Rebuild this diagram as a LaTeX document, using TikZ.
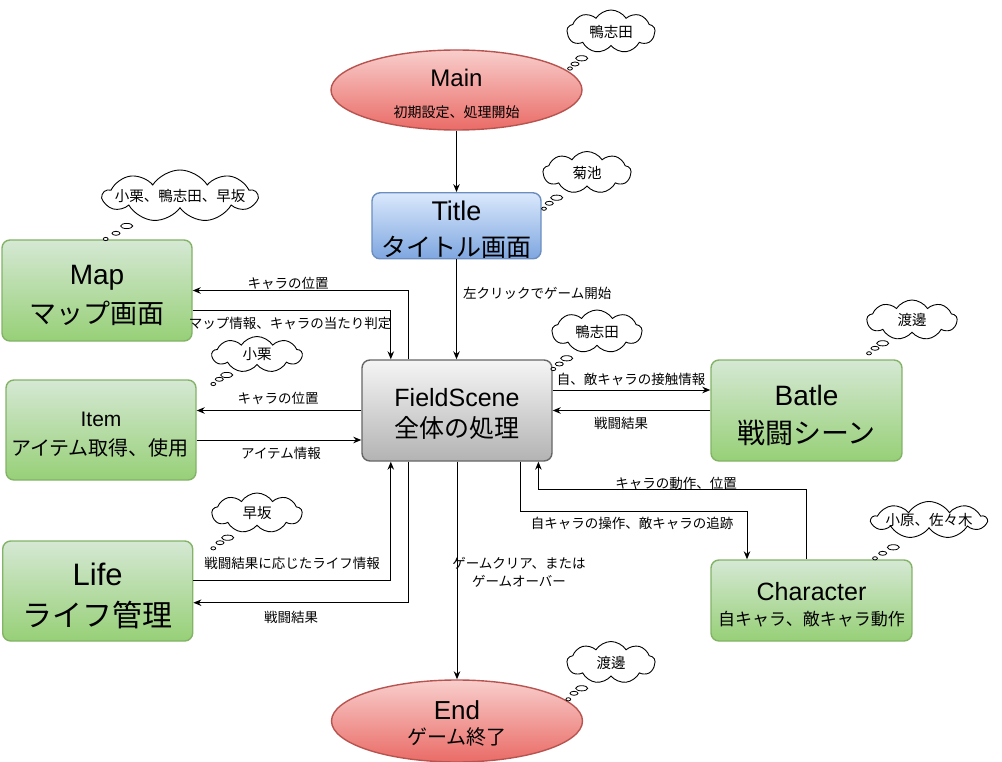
\documentclass[tikz,border=0pt]{standalone}
\usepackage{fontspec}
\setmainfont{Noto Sans CJK JP}
\newfontfamily\lat{Liberation Sans}
\usetikzlibrary{shapes.geometric,shapes.symbols,arrows.meta,calc}
\definecolor{rtop}{HTML}{F8CECC}\definecolor{rbot}{HTML}{EA6B66}\definecolor{rbd}{HTML}{B85450}
\definecolor{btop}{HTML}{DAE8FC}\definecolor{bbot}{HTML}{7EA6E0}\definecolor{bbd}{HTML}{6C8EBF}
\definecolor{gtop}{HTML}{D5E8D4}\definecolor{gbot}{HTML}{97D077}\definecolor{gbd}{HTML}{82B366}
\definecolor{ktop}{HTML}{F5F5F5}\definecolor{kbot}{HTML}{B3B3B3}\definecolor{kbd}{HTML}{666666}
\newcommand{\fsz}[1]{\fontsize{#1}{#1}\selectfont}
\newcommand{\ctext}[1]{\makebox[0pt]{#1}}
\begin{document}
\begin{tikzpicture}[x=1pt,y=-1pt,
  box/.style={rectangle, rounded corners=8pt, line width=1.4pt, inner sep=0pt},
  greenbox/.style={box, draw=gbd, top color=gtop, bottom color=gbot},
  bluebox/.style={box, draw=bbd, top color=btop, bottom color=bbot},
  graybox/.style={box, draw=kbd, top color=ktop, bottom color=kbot},
  redell/.style={ellipse, line width=1.4pt, draw=rbd, top color=rtop, bottom color=rbot, inner sep=0pt},
  txt/.style={inner sep=0pt, anchor=base},
  lbl/.style={inner sep=0pt, font=\fsz{13.5}},
  thought/.style={cloud, cloud puffs=9, cloud puff arc=115, cloud ignores aspect, draw, line width=0.9pt, fill=white, inner sep=0pt, font=\fsz{14.5}},
  bub/.style={draw, line width=0.8pt, fill=white},
  arr/.style={line width=1pt, -{Stealth[length=8pt,width=6.5pt]}},
  ]
\useasboundingbox (0,0) rectangle (1002,762);

% ---- main boxes
\node[redell, minimum width=251pt, minimum height=80pt] (main) at (456.5,90) {};
\node[txt, font=\fsz{24}\lat] (mainA) at (456.5,87) {Main};
\node[txt, font=\fsz{14}] (mainB) at (456.5,117.5) {初期設定、処理開始};

\node[bluebox, minimum width=169pt, minimum height=66pt] (title) at (456.5,225.8) {};
\node[txt, font=\fsz{27}\lat] (titleA) at (456.5,220.7) {Title};
\node[txt, font=\fsz{25}] (titleB) at (456.5,256.5) {タイトル画面};

\node[greenbox, minimum width=190pt, minimum height=101pt] (map) at (97,290.5) {};
\node[txt, font=\fsz{28}\lat] (mapA) at (97,285) {Map};
\node[txt, font=\fsz{27}] (mapB) at (97,323.5) {マップ画面};

\node[greenbox, minimum width=190pt, minimum height=100pt] (item) at (101,430) {};
\node[txt, font=\fsz{21}\lat] (itemA) at (101,426.7) {Item};
\node[txt, font=\fsz{20}] (itemB) at (100,455) {アイテム取得、使用};

\node[greenbox, minimum width=190pt, minimum height=100pt] (life) at (97.7,591) {};
\node[txt, font=\fsz{31}\lat] (lifeA) at (97.7,585) {Life};
\node[txt, font=\fsz{30}] (lifeB) at (97.7,626.5) {ライフ管理};

\node[graybox, minimum width=190pt, minimum height=101pt] (field) at (457,410.5) {};
\node[txt, font=\fsz{25}\lat] (fieldA) at (457,406.7) {FieldScene};
\node[txt, font=\fsz{25}] (fieldB) at (457,437.8) {全体の処理};

\node[greenbox, minimum width=191pt, minimum height=101pt] (batle) at (806.5,410.5) {};
\node[txt, font=\fsz{28}\lat] (batleA) at (806.5,405) {Batle};
\node[txt, font=\fsz{28}] (batleB) at (806.5,443.3) {戦闘シーン};

\node[greenbox, minimum width=201pt, minimum height=81pt] (char) at (811.5,600.5) {};
\node[txt, font=\fsz{25}\lat] (charA) at (811.5,600) {Character};
\node[txt, font=\fsz{17}] (charB) at (811.5,625.7) {自キャラ、敵キャラ動作};

\node[redell, minimum width=251pt, minimum height=82pt] (end) at (457,721) {};
\node[txt, font=\fsz{26}\lat] (endA) at (457,719) {End};
\node[txt, font=\fsz{20}] (endB) at (457,744.8) {ゲーム終了};

% ---- thought clouds
\node[thought, minimum width=88pt, minimum height=43pt] (c1) at (611,31.5) {\ctext{鴨志田}};
\draw[bub] (581.7,58.3) ellipse [x radius=6, y radius=2.6];
\draw[bub] (575,64) ellipse [x radius=4, y radius=2];
\draw[bub] (570,68.5) ellipse [x radius=2.4, y radius=1.6];

\node[thought, minimum width=88pt, minimum height=42pt] (c2) at (587,172.5) {\ctext{菊池}};
\draw[bub] (556.7,197.7) ellipse [x radius=6, y radius=2.6];
\draw[bub] (549.3,203.3) ellipse [x radius=4, y radius=2];
\draw[bub] (544,208.7) ellipse [x radius=2.4, y radius=1.6];

\node[thought, minimum width=154pt, minimum height=52pt] (c3) at (180,196) {\ctext{小栗、鴨志田、早坂}};
\draw[bub] (126.7,226) ellipse [x radius=6, y radius=2.6];
\draw[bub] (116,233.3) ellipse [x radius=4, y radius=2];
\draw[bub] (105.7,239) ellipse [x radius=2.4, y radius=1.6];

\node[thought, minimum width=90pt, minimum height=43pt] (c4) at (597,331.5) {\ctext{鴨志田}};
\draw[bub] (566.7,358.3) ellipse [x radius=6, y radius=2.6];
\draw[bub] (559.3,364) ellipse [x radius=4, y radius=2];
\draw[bub] (553.3,369) ellipse [x radius=2.4, y radius=1.6];

\node[thought, minimum width=90pt, minimum height=40pt] (c5) at (912,320) {\ctext{渡邊}};
\draw[bub] (882.7,343.3) ellipse [x radius=6, y radius=2.6];
\draw[bub] (875,348.3) ellipse [x radius=4, y radius=2];
\draw[bub] (869,353.3) ellipse [x radius=2.4, y radius=1.6];

\node[thought, minimum width=90pt, minimum height=36pt] (c6) at (257,354.5) {\ctext{小栗}};
\draw[bub] (226.7,375) ellipse [x radius=6, y radius=2.6];
\draw[bub] (219.3,379.3) ellipse [x radius=4, y radius=2];
\draw[bub] (213.3,384) ellipse [x radius=2.4, y radius=1.6];

\node[thought, minimum width=90pt, minimum height=40pt] (c7) at (257,513) {\ctext{早坂}};
\draw[bub] (227.7,537.7) ellipse [x radius=6, y radius=2.6];
\draw[bub] (220,542.7) ellipse [x radius=4, y radius=2];
\draw[bub] (213.3,548.3) ellipse [x radius=2.4, y radius=1.6];

\node[thought, minimum width=115pt, minimum height=37pt] (c8) at (929,520) {\ctext{小原、佐々木}};
\draw[bub] (893.3,547.3) ellipse [x radius=6, y radius=2.6];
\draw[bub] (882.7,553.3) ellipse [x radius=4, y radius=2];
\draw[bub] (875,558.3) ellipse [x radius=2.4, y radius=1.6];

\node[thought, minimum width=88pt, minimum height=42pt] (c9) at (611,662.5) {\ctext{渡邊}};
\draw[bub] (581.7,688.3) ellipse [x radius=6, y radius=2.6];
\draw[bub] (574,693.3) ellipse [x radius=4, y radius=2];
\draw[bub] (568.3,699.3) ellipse [x radius=2.4, y radius=1.6];

% ---- connectors
\draw[arr] (main) -- (title);
\draw[arr] (title.south) -- (title.south |- field.north);
\draw[arr] ($(field.north west)+(47,0)$) |- (map.east);
\coordinate (m1) at ($(map.east)+(0,20.5)$);
\draw[arr] (m1) -| ($(field.north west)+(29.5,0)$);
\draw[arr] (field.west) -- (field.west -| item.east);
\coordinate (i1) at ($(item.east)+(0,10)$);
\draw[arr] (i1) -- (i1 -| field.west);
\coordinate (l1) at ($(life.east)+(0,-11)$);
\draw[arr] (l1) -| ($(field.south west)+(29.5,0)$);
\draw[arr] ($(field.south west)+(47,0)$) |- ($(life.east)+(0,11.7)$);
\draw[arr] (field) -- (end);
\coordinate (b1) at ($(field.east)+(0,-20.5)$);
\draw[arr] (b1) -- (b1 -| batle.west);
\draw[arr] (batle.west) -- (batle.west -| field.east);
\draw[arr] ($(char.north west)+(95.7,0)$) -- ++(0,-70) -| ($(field.south east)+(-14.3,0)$);
\draw[arr] ($(field.south east)+(-32,0)$) -- ++(0,49.7) -| ($(char.north west)+(36.7,0)$);

% ---- connector labels
\node[lbl, anchor=west] (t1) at (463,293) {左クリックでゲーム開始};
\node[lbl] (t2) at (288,283) {キャラの位置};
\node[lbl] (t3) at (290,323) {マップ情報、キャラの当たり判定};
\node[lbl] (t4) at (278,398) {キャラの位置};
\node[lbl] (t5) at (281,453) {アイテム情報};
\node[lbl] (t6) at (292,563) {戦闘結果に応じたライフ情報};
\node[lbl] (t7) at (291,617) {戦闘結果};
\node[lbl, align=center, font=\fontsize{13.5}{17.7}\selectfont] (t8) at (519,572) {ゲームクリア、または\\ゲームオーバー};
\node[lbl] (t9) at (631,379) {自、敵キャラの接触情報};
\node[lbl] (t10) at (621,423) {戦闘結果};
\node[lbl] (t11) at (676,483) {キャラの動作、位置};
\node[lbl] (t12) at (632,523) {自キャラの操作、敵キャラの追跡};
\end{tikzpicture}
\end{document}
